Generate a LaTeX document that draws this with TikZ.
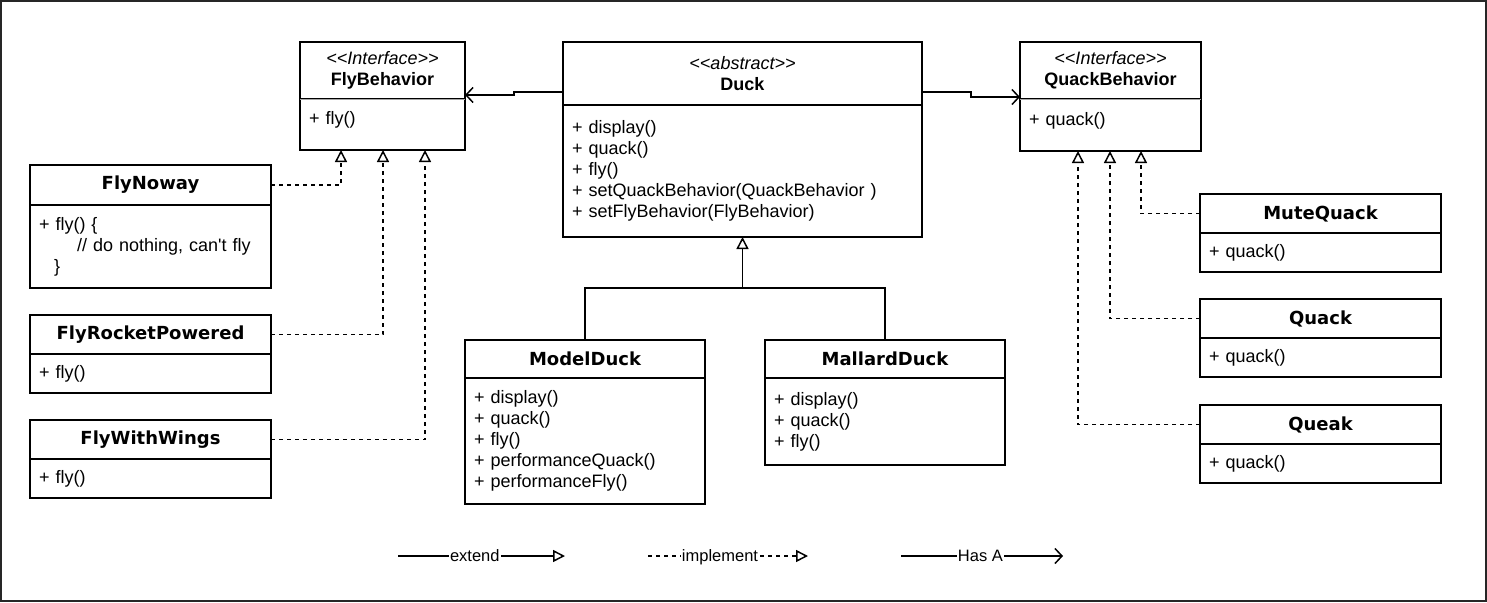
\documentclass[tikz,border=0pt]{standalone}
\usepackage{fontspec}
\newfontfamily\arial{Liberation Sans}
\newfontfamily\dejavu{DejaVu Sans}
\usetikzlibrary{positioning,arrows.meta}

\newcommand\ster[1]{\textit{<\kern0pt<#1>\kern0pt>}}

\begin{document}
\begin{tikzpicture}[x=1pt, y=-1pt, line width=1.5pt,
  every node/.style={font=\arial\fontsize{18}{21}\selectfont, inner sep=0pt, outer sep=0pt},
  hdr/.style={draw, anchor=north west, align=center},
  cls/.style={hdr, minimum width=241, font=\dejavu\bfseries\fontsize{18}{21}\selectfont},
  body/.style={draw, below=0pt of #1, align=left, inner xsep=9pt, inner ysep=4pt},
  ext/.style={-{Triangle[open,length=12pt,width=12pt]}},
  impl/.style={dash pattern=on 4pt off 4pt, -{Triangle[open,length=12pt,width=12pt]}},
  hasa/.style={-{Straight Barb[length=7pt,width=15pt]}},
  lgd/.style={fill=white, inner xsep=1pt, font=\arial\fontsize{16.5}{19}\selectfont}]
  \useasboundingbox (0,0) rectangle (1487,602);
  \draw[line width=2pt, black!85] (1,1) rectangle (1486,601);

  % interfaces and the abstract class
  \node[hdr, minimum width=165, minimum height=57] (flyb) at (300,42) {\ster{Interface}\\\textbf{FlyBehavior}};
  \node[body=flyb, text width=147, minimum height=51, text depth=13] (flybb) {+ fly()};
  \node[hdr, minimum width=359, minimum height=63] (duck) at (563,42) {\ster{abstract}\\\textbf{Duck}};
  \node[body=duck, text width=341, minimum height=132] (duckb) {+ display()\\+ quack()\\+ fly()\\+ setQuackBehavior(QuackBehavior )\\+ setFlyBehavior(FlyBehavior)};
  \node[hdr, minimum width=181, minimum height=57] (qb) at (1020,42) {\ster{Interface}\\\textbf{QuackBehavior}};
  \node[body=qb, text width=163, minimum height=52, text depth=12] (qbb) {+ quack()};
  \draw[line width=1pt, black!35] (flyb.south west) -- (flyb.south east);
  \draw[line width=1pt, black!35] (qb.south west) -- (qb.south east);

  % fly behaviours
  \node[cls, minimum height=40] (noway) at (30,165) {FlyNoway};
  \node[body=noway, text width=223, minimum height=83] (nowayb) {+ fly() \{\\\hspace*{38pt}// do nothing, can't fly\\\hspace*{15pt}\}};
  \node[cls, minimum height=39] (rocket) at (30,315) {FlyRocketPowered};
  \node[body=rocket, text width=223, minimum height=39] (rocketb) {+ fly()};
  \node[cls, minimum height=39] (wings) at (30,420) {FlyWithWings};
  \node[body=wings, text width=223, minimum height=39] (wingsb) {+ fly()};

  % ducks
  \node[cls, minimum width=240, minimum height=38] (model) at (465,340) {ModelDuck};
  \node[body=model, text width=222, minimum height=126] (modelb) {+ display()\\+ quack()\\+ fly()\\+ performanceQuack()\\+ performanceFly()};
  \node[cls, minimum width=240, minimum height=38] (mallard) at (765,340) {MallardDuck};
  \node[body=mallard, text width=222, minimum height=87] (mallardb) {+ display()\\+ quack()\\+ fly()};

  % quack behaviours
  \node[cls, minimum height=39] (mute) at (1200,194) {MuteQuack};
  \node[body=mute, text width=223, minimum height=39] (muteb) {+ quack()};
  \node[cls, minimum height=39] (quack) at (1200,299) {Quack};
  \node[body=quack, text width=223, minimum height=39] (quackb) {+ quack()};
  \node[cls, minimum height=39] (queak) at (1200,405) {Queak};
  \node[body=queak, text width=223, minimum height=39] (queakb) {+ quack()};

  % has a
  \draw[hasa] ([yshift=13]duck.south west) -- ++(-49,0) |- ([yshift=4]flyb.south east);
  \draw[hasa] ([yshift=13]duck.south east) -- ++(49,0) |- ([yshift=2]qb.south west);

  % implement
  \draw[impl] (noway.east) -| ([xshift=41]flybb.south west);
  \draw[impl] (rocket.east) -| ([xshift=83]flybb.south west);
  \draw[impl] (wings.east) -| ([xshift=125]flybb.south west);
  \draw[impl] (mute.west) -| ([xshift=121]qbb.south west);
  \draw[impl] (quack.west) -| ([xshift=90]qbb.south west);
  \draw[impl] (queak.west) -| ([xshift=58]qbb.south west);

  % extend
  \coordinate (bus) at (duckb.south |- 0,288);
  \draw (model.north) |- (bus) -| (mallard.north);
  \draw[ext] (bus) -- (duckb.south);

  % legend
  \coordinate (ext1) at (398,556); \coordinate (ext2) at (565,556);
  \coordinate (imp1) at (648,556); \coordinate (imp2) at (808,556);
  \coordinate (has1) at (901,556); \coordinate (has2) at (1063,556);
  \draw[ext] (ext1) -- node[lgd, pos=0.46] (lext) {extend} (ext2);
  \draw[impl] (imp1) -- node[lgd, pos=0.45, yshift=-1] (limp) {implement} (imp2);
  \draw[hasa] (has1) -- node[lgd, pos=0.49] (lhas) {Has A} (has2);
\end{tikzpicture}
\end{document}
